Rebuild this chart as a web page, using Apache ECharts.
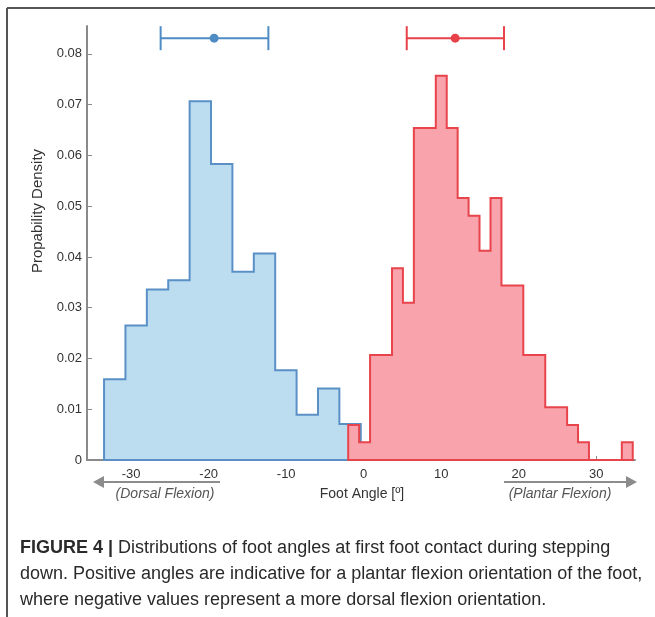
<!DOCTYPE html>
<html>
<head>
<meta charset="utf-8">
<script src="https://cdn.jsdelivr.net/npm/echarts@6/dist/echarts.min.js"></script>
<style>
  html, body { margin: 0; padding: 0; background: #fff; }
  #main { width: 655px; height: 617px; }
</style>
</head>
<body>
<div id="main"></div>
<script>
// histogram bin edges (foot angle, deg) and densities
var heelEdges = [-33.5, -30.74, -27.98, -25.22, -22.46, -19.7, -16.94, -14.18, -11.42, -8.66, -5.9, -3.14, -0.38];
var heelDensity = [0.0159, 0.0265, 0.0336, 0.0354, 0.0707, 0.0583, 0.0371, 0.0407, 0.0177, 0.0089, 0.0141, 0.0071];

var toeEdges = [-2.0, -0.59, 0.82, 2.24, 3.65, 5.06, 6.47, 7.88, 9.3, 10.71, 12.12, 13.53, 14.94, 16.36,
                17.77, 19.18, 20.59, 22.0, 23.42, 24.83, 26.24, 27.65, 29.06, 30.48, 31.89, 33.3, 34.71];
var toeDensity = [0.0069, 0.0035, 0.0207, 0.0207, 0.0378, 0.0310, 0.0654, 0.0654, 0.0757, 0.0654, 0.0516, 0.0481, 0.0412,
                  0.0516, 0.0344, 0.0344, 0.0207, 0.0207, 0.0104, 0.0104, 0.0069, 0.0035, 0, 0, 0, 0.0035];

// mean +- spread: [low, mean, high, y]
var heelStat = [-26.2, -19.3, -12.3, 0.0831];
var toeStat = [5.55, 11.8, 18.1, 0.0831];

var xTicks = [-30, -20, -10, 0, 10, 20, 30];
var yTicks = [0, 0.01, 0.02, 0.03, 0.04, 0.05, 0.06, 0.07, 0.08];

var FONT = '"Liberation Sans", Arial, sans-serif';
var chart = echarts.init(document.getElementById('main'));

// step outline polygon for one histogram
function histSeries(name, edges, dens, fill, stroke) {
    return {
        name: name,
        type: 'custom',
        data: [0],
        renderItem: function (params, api) {
            var pts = [api.coord([edges[0], 0])];
            for (var i = 0; i < dens.length; i++) {
                pts.push(api.coord([edges[i], dens[i]]));
                pts.push(api.coord([edges[i + 1], dens[i]]));
            }
            pts.push(api.coord([edges[edges.length - 1], 0]));
            return {
                type: 'polygon',
                shape: { points: pts },
                style: { fill: fill, stroke: stroke, lineWidth: 2, lineJoin: 'miter' }
            };
        }
    };
}

// horizontal error bar with caps and a dot
function statSeries(name, stat, color) {
    return {
        name: name,
        type: 'custom',
        data: [stat],
        renderItem: function (params, api) {
            var lo = api.coord([api.value(0), api.value(3)]);
            var mid = api.coord([api.value(1), api.value(3)]);
            var hi = api.coord([api.value(2), api.value(3)]);
            var st = { stroke: color, lineWidth: 2 };
            return {
                type: 'group',
                children: [
                    { type: 'line', shape: { x1: lo[0], y1: lo[1], x2: hi[0], y2: hi[1] }, style: st },
                    { type: 'line', shape: { x1: lo[0], y1: lo[1] - 12, x2: lo[0], y2: lo[1] + 12 }, style: st },
                    { type: 'line', shape: { x1: hi[0], y1: hi[1] - 12, x2: hi[0], y2: hi[1] + 12 }, style: st },
                    { type: 'circle', shape: { cx: mid[0], cy: mid[1], r: 4.5 }, style: { fill: color } }
                ]
            };
        }
    };
}

var option = {
    backgroundColor: '#fff',
    animation: false,
    textStyle: { fontFamily: FONT },
    grid: { left: 87, right: 20, top: 26, bottom: 157 },
    xAxis: {
        type: 'value',
        min: -35.7,
        max: 35,
        axisLine: { onZero: false, lineStyle: { color: '#8a8a8a', width: 2 } },
        axisTick: { inside: true, length: 4, customValues: xTicks, lineStyle: { color: '#8a8a8a' } },
        axisLabel: { customValues: xTicks, color: '#333', fontSize: 13, margin: 8, fontFamily: FONT },
        splitLine: { show: false }
    },
    yAxis: {
        type: 'value',
        min: 0,
        max: 0.0855,
        axisLine: { show: true, onZero: false, lineStyle: { color: '#8a8a8a', width: 2 } },
        axisTick: { show: true, inside: true, length: 5, customValues: yTicks, lineStyle: { color: '#8a8a8a' } },
        axisLabel: { customValues: yTicks, color: '#333', fontSize: 13, margin: 5, fontFamily: FONT },
        splitLine: { show: false }
    },
    series: [
        histSeries('Heel Landings', heelEdges, heelDensity, '#bcdcf0', '#5a90c6'),
        histSeries('Toe Landings', toeEdges, toeDensity, '#f9a3ad', '#e8444c'),
        statSeries('Heel mean', heelStat, '#4f8cc4'),
        statSeries('Toe mean', toeStat, '#e8414a')
    ],
    graphic: [
        // frame
        { type: 'line', shape: { x1: 7, y1: 8, x2: 655, y2: 8 }, style: { stroke: '#555', lineWidth: 2 } },
        { type: 'line', shape: { x1: 7, y1: 8, x2: 7, y2: 617 }, style: { stroke: '#555', lineWidth: 2 } },
        // y axis title
        { type: 'text', x: 38, y: 211, rotation: Math.PI / 2, style: { text: 'Propability Density', fill: '#333', font: '15px ' + FONT, align: 'center', verticalAlign: 'middle' } },
        // in-plot labels
        { type: 'text', x: 215, y: 390, style: { text: 'Heel\nLandings', fill: '#4f86c0', font: 'italic bold 14px ' + FONT, align: 'center', verticalAlign: 'middle', lineHeight: 18 } },
        { type: 'text', x: 456, y: 390, style: { text: 'Toe\nLandings', fill: '#e0444c', font: 'italic bold 14px ' + FONT, align: 'center', verticalAlign: 'middle', lineHeight: 18 } },
        // x axis annotations
        { type: 'line', shape: { x1: 100, y1: 482, x2: 220, y2: 482 }, style: { stroke: '#8c8c8c', lineWidth: 2 } },
        { type: 'polygon', shape: { points: [[93, 482], [104, 476], [104, 488]] }, style: { fill: '#8c8c8c' } },
        { type: 'line', shape: { x1: 504, y1: 482, x2: 630, y2: 482 }, style: { stroke: '#8c8c8c', lineWidth: 2 } },
        { type: 'polygon', shape: { points: [[637, 482], [626, 476], [626, 488]] }, style: { fill: '#8c8c8c' } },
        { type: 'text', x: 165, y: 494, style: { text: '(Dorsal Flexion)', fill: '#555', font: 'italic 14px ' + FONT, align: 'center', verticalAlign: 'middle' } },
        { type: 'text', x: 362, y: 494, style: { text: 'Foot Angle [º]', fill: '#333', font: '14px ' + FONT, align: 'center', verticalAlign: 'middle' } },
        { type: 'text', x: 560, y: 494, style: { text: '(Plantar Flexion)', fill: '#555', font: 'italic 14px ' + FONT, align: 'center', verticalAlign: 'middle' } },
        // caption
        {
            type: 'text', x: 20, y: 548,
            style: {
                text: '{b|FIGURE 4 |} Distributions of foot angles at first foot contact during stepping',
                rich: { b: { fontWeight: 'bold', fontSize: 18, fill: '#2a2a2a', fontFamily: FONT } },
                fill: '#2a2a2a', fontSize: 18, fontFamily: FONT, verticalAlign: 'middle'
            }
        },
        { type: 'text', x: 20, y: 574, style: { text: 'down. Positive angles are indicative for a plantar flexion orientation of the foot,', fill: '#2a2a2a', font: '18px ' + FONT, verticalAlign: 'middle' } },
        { type: 'text', x: 20, y: 600, style: { text: 'where negative values represent a more dorsal flexion orientation.', fill: '#2a2a2a', font: '18px ' + FONT, verticalAlign: 'middle' } }
    ]
};

chart.setOption(option);
</script>
</body>
</html>
